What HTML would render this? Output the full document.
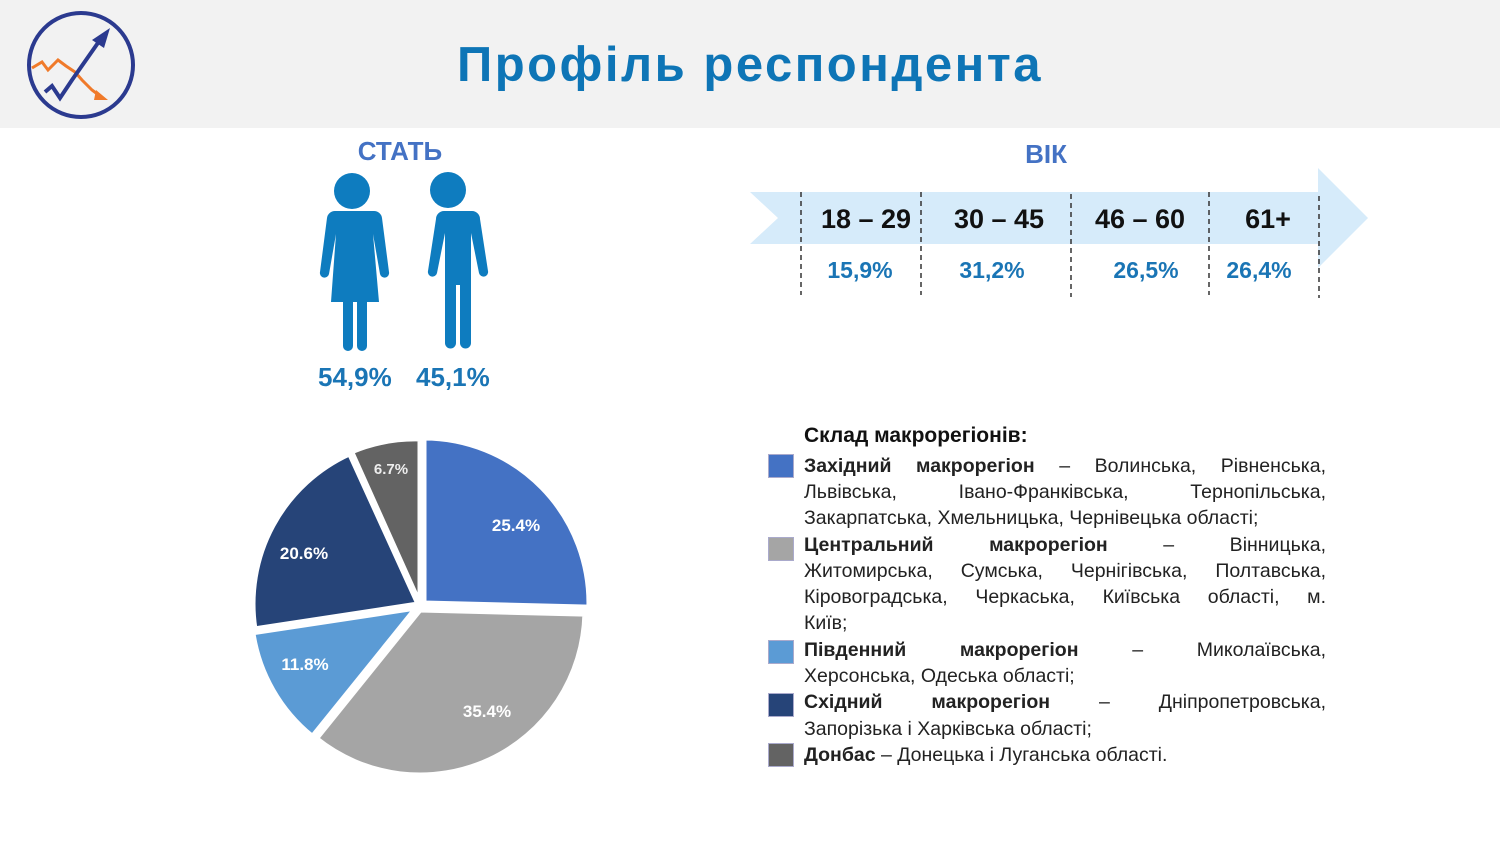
<!DOCTYPE html>
<html><head><meta charset="utf-8"><style>
body{margin:0;width:1500px;height:844px;position:relative;background:#fff;font-family:"Liberation Sans",sans-serif;overflow:hidden}
.a{position:absolute;white-space:nowrap}
.hdr{position:absolute;left:0;top:0;width:1500px;height:128px;background:#f2f2f2}
.lg{position:absolute;left:804px;width:522px;font-size:19.5px;color:#222;line-height:26px;height:26px;text-align:justify;text-align-last:justify;white-space:nowrap}
.lg.n{text-align-last:left}
.sq{position:absolute;left:768px;width:24px;height:22px;border:1px solid #aac}
</style></head><body>
<div class="hdr"></div>
<svg class="a" style="left:0;top:0" width="1500" height="844">
 <circle cx="81" cy="65" r="52" fill="none" stroke="#2b3a8f" stroke-width="4"/>
 <polyline points="32,68 42,62 48,70 58,60 66,66 75,72 82,80 92,90 100,96" fill="none" stroke="#f07a2a" stroke-width="3"/>
 <polygon points="96,90 108,100 94,100" fill="#f07a2a"/>
 <polyline points="45,92 52,86 60,98 72,80 100,40" fill="none" stroke="#2b3a8f" stroke-width="4"/>
 <polygon points="110,28 92,40 104,48" fill="#2b3a8f"/>
 <g fill="#0e7cbf">
  <circle cx="352" cy="191" r="18"/>
  <path d="M330,211 h44 a8,8 0 0 1 8,7 l7,54 a4,4 0 0 1 -9,2 l-7,-40 l6,68 h-12 v44 a5,5 0 0 1 -10,0 v-44 h-4 v44 a5,5 0 0 1 -10,0 v-44 h-12 l5,-68 l-7,40 a4,4 0 0 1 -9,-2 l7,-54 a8,8 0 0 1 8,-7z"/>
  <circle cx="448" cy="190" r="18"/>
  <path d="M424,211 h48 a8,8 0 0 1 8,8 l8,52 a4,4 0 0 1 -9,2 l-8,-40 v110 a5,5 0 0 1 -11,0 v-58 h-4 v58 a5,5 0 0 1 -11,0 v-110 l-8,40 a4,4 0 0 1 -9,-2 l8,-52 a8,8 0 0 1 8,-8z"/>
 </g>
 <polygon points="750,192 1318,192 1318,168 1368,218 1318,268 1318,244 750,244 778,218" fill="#d6ebfa"/>
 <g stroke="#333" stroke-width="1.5" stroke-dasharray="5,4">
  <line x1="801" y1="192" x2="801" y2="295"/><line x1="921" y1="192" x2="921" y2="295"/>
  <line x1="1071" y1="194" x2="1071" y2="297"/><line x1="1209" y1="192" x2="1209" y2="295"/>
  <line x1="1319" y1="196" x2="1319" y2="298"/>
 </g>
 <g font-weight="bold" font-size="27" fill="#111" text-anchor="middle">
  <text x="866" y="228">18 – 29</text><text x="999" y="228">30 – 45</text>
  <text x="1140" y="228">46 – 60</text><text x="1268" y="228">61+</text>
 </g>
 <g font-weight="bold" font-size="23" fill="#1a75b5" text-anchor="middle">
  <text x="860" y="278">15,9%</text><text x="992" y="278">31,2%</text>
  <text x="1146" y="278">26,5%</text><text x="1259" y="278">26,4%</text>
 </g>
 <g stroke="#fff" stroke-width="5" stroke-linejoin="round">
  <path d="M424,603 L424,438 A165,165 0 0 1 588.9,607.1 Z" fill="#4472c4"/>
  <path d="M420,610 L584.9,614.1 A165,165 0 0 1 316.4,738.5 Z" fill="#a5a5a5"/>
  <path d="M416,608 L312.4,736.5 A165,165 0 0 1 252.9,632.8 Z" fill="#5b9bd5"/>
  <path d="M418,604 L254.9,628.8 A165,165 0 0 1 349.6,453.8 Z" fill="#264478"/>
  <path d="M420,604 L351.6,451.8 A165,165 0 0 1 420,439 Z" fill="#636363"/>
 </g>
 <g font-weight="bold" font-size="17" fill="#fff" text-anchor="middle">
  <text x="516" y="531">25.4%</text><text x="487" y="717">35.4%</text>
  <text x="305" y="670">11.8%</text><text x="304" y="559">20.6%</text>
  <text x="391" y="474" font-size="15" fill="#eee">6.7%</text>
 </g>
</svg>
<div class="a" style="left:0;width:1500px;top:37px;text-align:center;font-size:49px;font-weight:bold;color:#0e75b6;letter-spacing:2.5px">Профіль респондента</div>
<div class="a" style="left:300px;width:200px;top:136px;text-align:center;font-size:26px;font-weight:bold;color:#4472c4">СТАТЬ</div>
<div class="a" style="left:946px;width:200px;top:139px;text-align:center;font-size:26px;font-weight:bold;color:#4472c4">ВІК</div>
<div class="a" style="left:318px;top:362px;font-size:26px;font-weight:bold;color:#1a75b5">54,9%</div>
<div class="a" style="left:416px;top:362px;font-size:26px;font-weight:bold;color:#1a75b5">45,1%</div>

<div class="a" style="left:804px;top:424px;font-size:21px;font-weight:bold;color:#111">Склад макрорегіонів:</div>
<div class="sq" style="top:454px;background:#4472c4"></div>
<div class="sq" style="top:537px;background:#a5a5a5"></div>
<div class="sq" style="top:640px;background:#5b9bd5"></div>
<div class="sq" style="top:693px;background:#264478"></div>
<div class="sq" style="top:743px;background:#636363"></div>
<div class="lg" style="top:453px"><b>Західний макрорегіон</b> – Волинська, Рівненська,</div>
<div class="lg" style="top:479px">Львівська, Івано-Франківська, Тернопільська,</div>
<div class="lg n" style="top:505px">Закарпатська, Хмельницька, Чернівецька області;</div>
<div class="lg" style="top:532px"><b>Центральний макрорегіон</b> – Вінницька,</div>
<div class="lg" style="top:558px">Житомирська, Сумська, Чернігівська, Полтавська,</div>
<div class="lg" style="top:584px">Кіровоградська, Черкаська, Київська області, м.</div>
<div class="lg n" style="top:610px">Київ;</div>
<div class="lg" style="top:637px"><b>Південний макрорегіон</b> – Миколаївська,</div>
<div class="lg n" style="top:663px">Херсонська, Одеська області;</div>
<div class="lg" style="top:689px"><b>Східний макрорегіон</b> – Дніпропетровська,</div>
<div class="lg n" style="top:716px">Запорізька і Харківська області;</div>
<div class="lg n" style="top:742px"><b>Донбас</b> – Донецька і Луганська області.</div>
</body></html>
